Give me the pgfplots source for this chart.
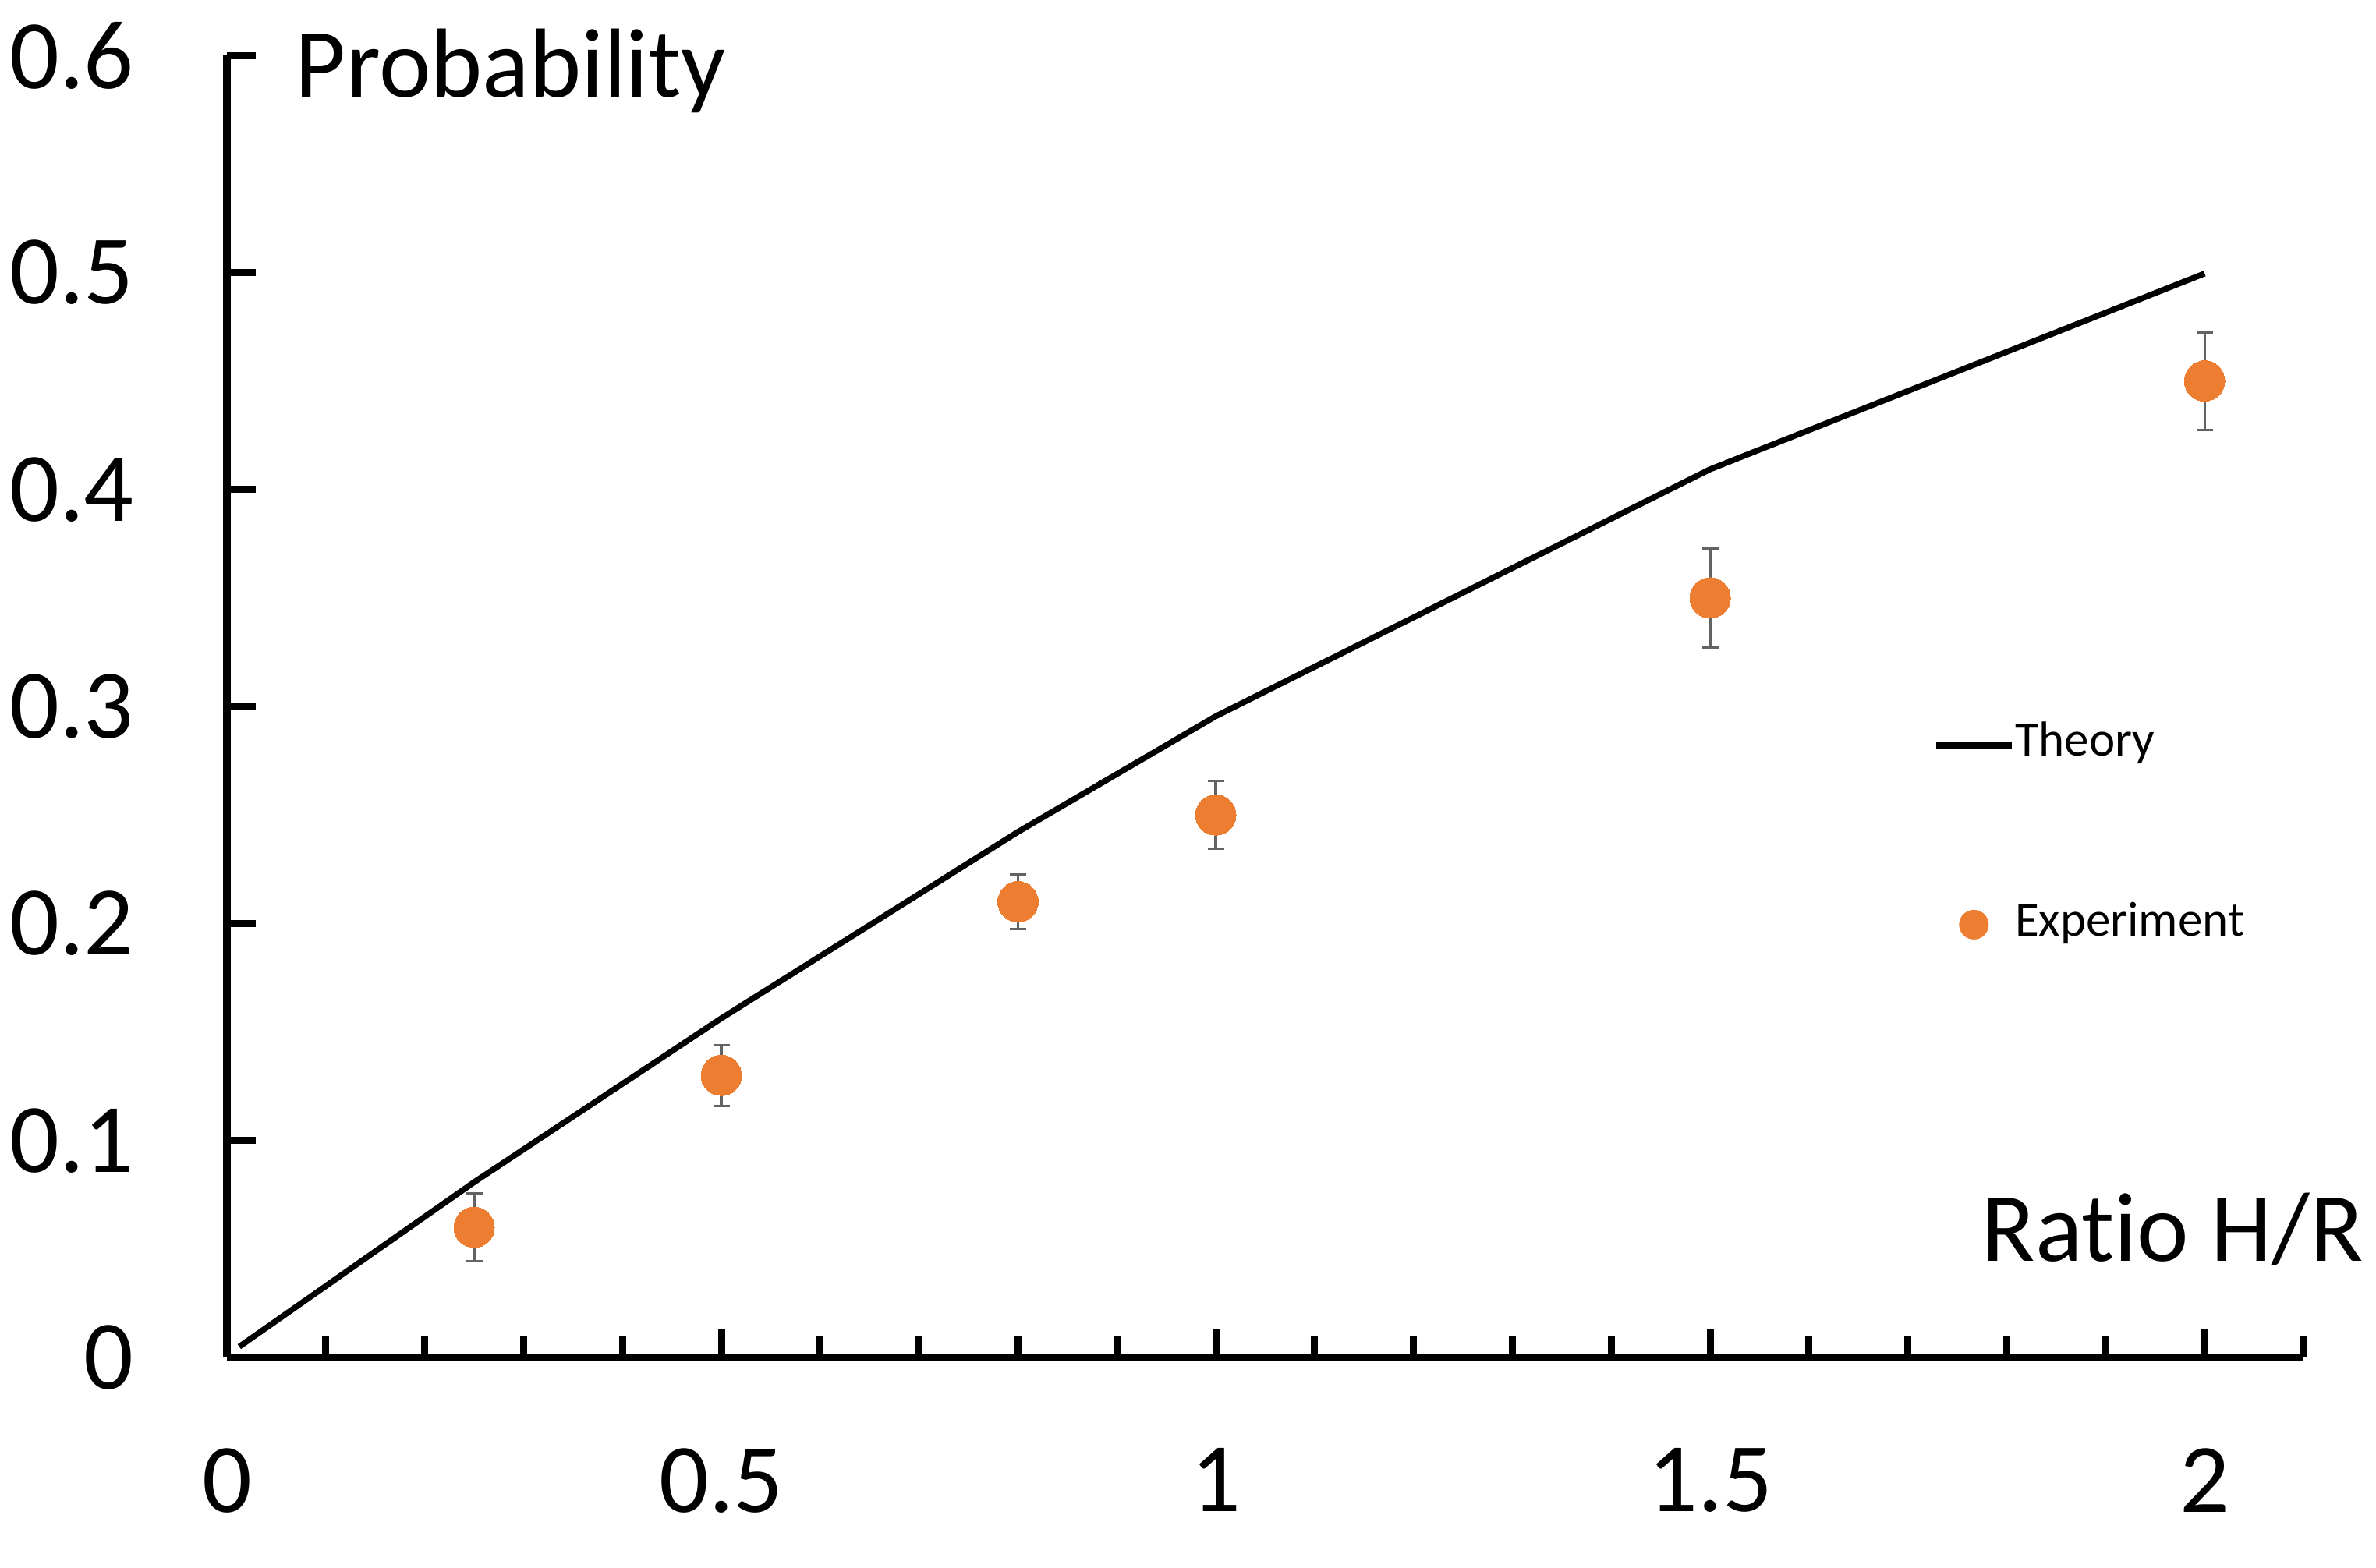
\documentclass[border=0pt]{standalone}
\usepackage{fontspec}
\setmainfont{Carlito}[Ligatures=NoCommon]
\usepackage{pgfplots}
\pgfplotsset{compat=1.18}
\definecolor{exporange}{HTML}{ED7D31}
\definecolor{errgray}{HTML}{636363}
\begin{document}
\begin{tikzpicture}
\useasboundingbox (-29.1pt,-26.9pt) rectangle ++(304.7pt,201pt);
\begin{axis}[
  at={(0,0)}, anchor=origin,
  scale only axis, width=266.3pt, height=167pt,
  xmin=0, xmax=2.1, ymin=0, ymax=0.6,
  axis lines*=left,
  axis line style={line width=1pt},
  xtick={0,0.5,1,1.5,2},
  minor xtick={0.1,0.2,0.3,0.4,0.6,0.7,0.8,0.9,1.1,1.2,1.3,1.4,1.6,1.7,1.8,1.9,2.1},
  ytick={0,0.1,0.2,0.3,0.4,0.5,0.6},
  tick align=inside,
  major tick length=3.7pt, minor tick length=2.7pt,
  tick style={line width=0.9pt, black},
  clip=false,
  /pgf/number format/assume math mode=true,
  ticklabel style={font=\fontsize{12.6}{15}\selectfont},
  xticklabel style={yshift=-8.1pt},
  yticklabel style={xshift=-8.4pt},
  legend style={at={(axis cs:1.7235,0.2409)}, anchor=west, draw=none, fill=none,
    inner sep=0pt, row sep=17.2pt, font=\fontsize{6.3}{7.5}\selectfont,
    nodes={inner sep=0pt},
    /tikz/every even column/.append style={column sep=0.5pt}},
  legend cell align=left,
]
\addplot[line width=0.75pt, black,
  legend image code/.code={\draw[line width=0.85pt, black] (0pt,0pt) -- (9.7pt,0pt);}]
  coordinates {(0.0125,0.005) (0.25,0.0808) (0.5,0.1563) (0.8,0.2422) (1.0,0.2955) (1.5,0.4093) (2.0,0.4995)};
\addlegendentry{Theory}
\addplot[only marks, mark=*, mark size=2.6pt,
  mark options={fill=exporange, draw=exporange, line width=0pt},
  legend image code/.code={\path[draw=none] (0pt,0pt) (9.7pt,0pt); \fill[exporange, draw=none] (4.85pt,0pt) circle (1.9pt);},
  error bars/.cd, y dir=both, y explicit,
  error bar style={line width=0.33pt, errgray},
  error mark options={rotate=90, mark size=1.05pt, line width=0.33pt, errgray}]
  coordinates {
  (0.25,0.060) +- (0,0.0156)
  (0.5,0.130) +- (0,0.014)
  (0.8,0.210) +- (0,0.0126)
  (1.0,0.250) +- (0,0.0156)
  (1.5,0.350) +- (0,0.023)
  (2.0,0.450) +- (0,0.0225)
  };
\addlegendentry{Experiment}
\node[anchor=base west, inner sep=0pt, xshift=8.6pt, yshift=-5.3pt, font=\fontsize{12.6}{15}\selectfont] at (rel axis cs:0,1) {Probability};
\node[anchor=base east, inner sep=0pt, xshift=7.9pt, yshift=12.4pt, font=\fontsize{12.6}{15}\selectfont] at (rel axis cs:1,0) {Ratio H/R};
\end{axis}
\end{tikzpicture}
\end{document}
